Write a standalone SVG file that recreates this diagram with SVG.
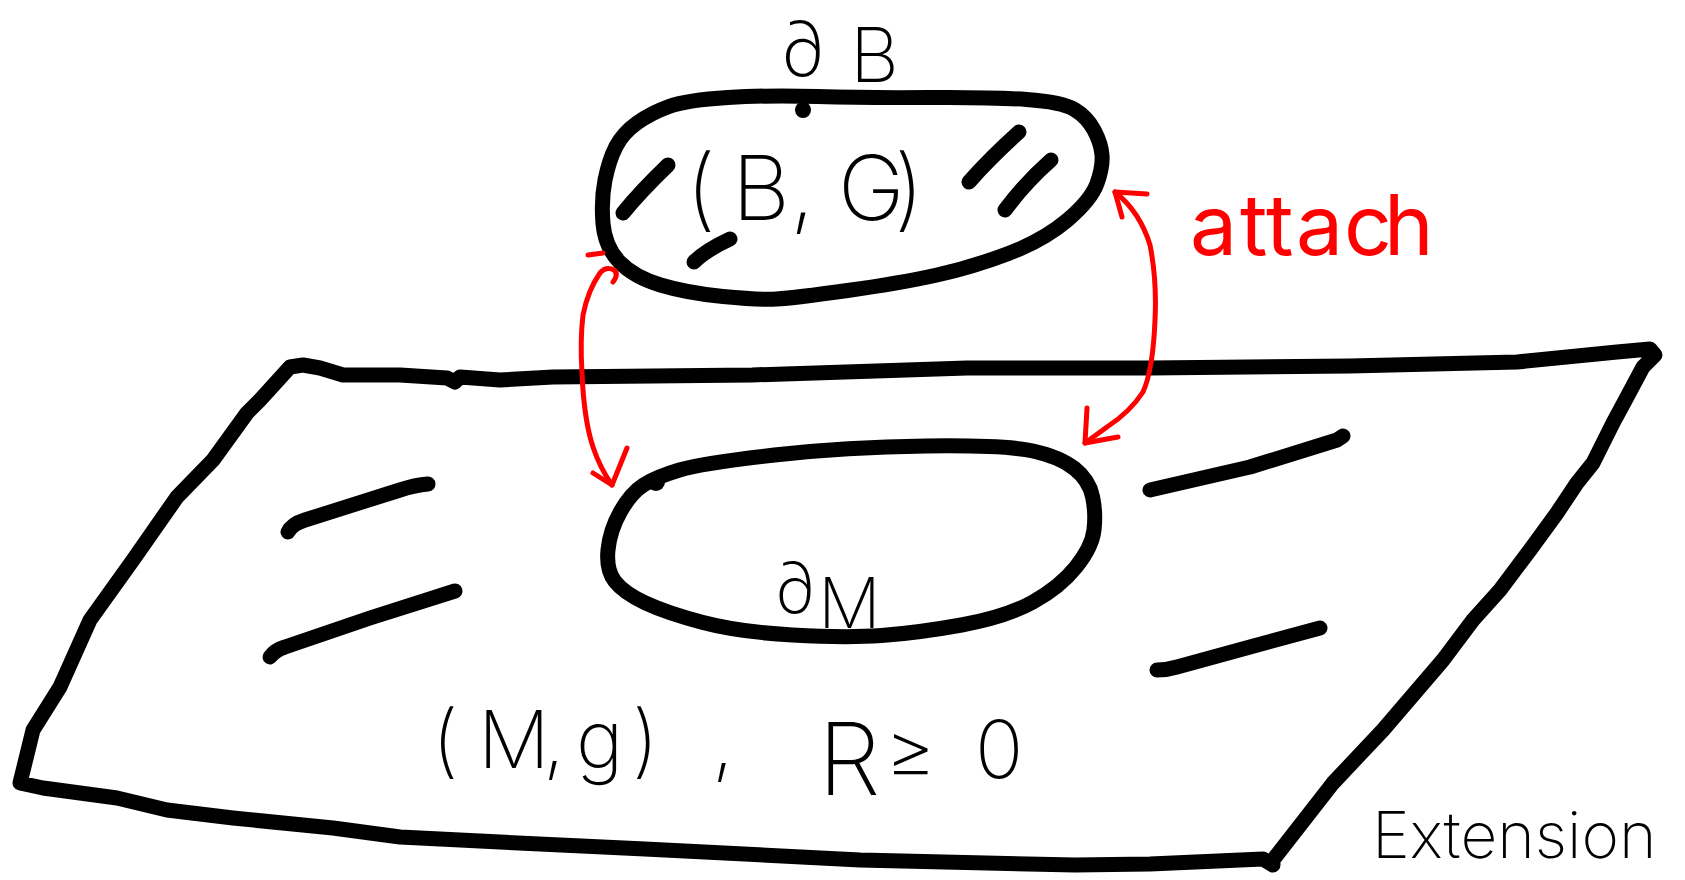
<svg xmlns="http://www.w3.org/2000/svg" width="1685" height="880" viewBox="0 0 1685 880">
<style>
.ink{fill:none;stroke:#000;stroke-width:15;stroke-linecap:round;stroke-linejoin:round}
.red{fill:none;stroke:#ff0000;stroke-width:5;stroke-linecap:round;stroke-linejoin:round}
.hand{font-family:Inter,"DejaVu Sans","Liberation Sans",sans-serif;font-weight:200;fill:#000}
.rhand{font-family:Inter,"DejaVu Sans","Liberation Sans",sans-serif;font-weight:400;fill:#ff0000}
</style>
<rect width="1685" height="880" fill="#fff"/>
<g id="plane">
<path class="ink" d="M20,783 L33,730 L60,687 L90,620 L133,560 L177,497 L213,460 L247,413 L260,400 L290,367 L303,365 L320,368 L343,375 L400,375 L447,378 L455,382 L460,377 L500,380 L553,377 L752,375 L967,368 L1150,368 L1350,366 L1517,362 L1617,352 L1650,349 L1655,355 L1643,367 L1627,397 L1613,423 L1593,463 L1577,483 L1557,513 L1530,550 L1500,590 L1473,620 L1443,660 L1383,730 L1333,783 L1273,860 L1273,865 L1263,859 L1150,864 L1075,865 L860,860 L645,849 L500,842 L400,837 L333,828 L233,818 L167,810 L117,798 L43,788 Z"/>
<path class="ink" d="M288,532 Q292,524 305,520 L400,490 Q415,485 428,484"/>
<path class="ink" d="M270,657 Q275,650 285,647 L370,618 L455,591"/>
<path class="ink" d="M1150,490 L1250,467 L1337,440 L1343,436"/>
<path class="ink" d="M1157,670 Q1167,670 1177,667 L1250,647 L1320,628"/>
<text class="hand" font-size="80" x="432 478 543 560 576 632" y="768">(M, g)</text>
<text class="hand" font-size="80" x="712" y="770">,</text>
<text class="hand" font-size="100" x="818" y="795">R</text>
<text class="hand" font-size="80" x="885 975" y="778">≥0</text>
<text class="hand" font-size="64" x="1372" y="858">Extension</text>
</g>
<g id="hole">
<path class="ink" d="M643.5,485 Q656,477 679.5,470 Q703,463 774.5,455 Q846,447 926,446 Q1006,445 1033,451 Q1060,457 1074.5,468.5 Q1089,480 1092.5,496.5 Q1096,513 1094,530 Q1092,547 1076,567 Q1060,587 1033,602 Q1006,617 961.5,625 Q917,633 881.5,635.5 Q846,638 792.5,635 Q739,632 703,622.5 Q667,613 645.5,603 Q624,593 615,581.5 Q606,570 608,550 Q610,530 620.5,511.5 Q631,493 643.5,485 Z"/>
<circle cx="656" cy="482" r="9" fill="#000"/>
<text class="hand" font-size="70" x="774 818" y="613 628">∂M</text>
</g>
<g id="ball">
<path class="ink" d="M728,97.5 Q769,95 817.5,96.5 Q866,98 928.5,97.5 Q991,97 1026.5,99.5 Q1062,102 1074.5,109.5 Q1087,117 1094,130 Q1101,143 1102,155 Q1103,167 1097,183.5 Q1091,200 1067.5,220 Q1044,240 1008.5,253.5 Q973,267 937,275 Q901,283 847.5,290.5 Q794,298 776.5,299 Q759,300 723,296.5 Q687,293 660.5,285 Q634,277 619.5,262 Q605,247 603,223.5 Q601,200 605,180 Q609,160 616,146.5 Q623,133 637,123 Q651,113 669,106.5 Q687,100 728,97.5 Z"/>
<circle cx="803" cy="110" r="8" fill="#000"/>
<path class="ink" d="M623,213 Q640,192 668,165"/>
<path class="ink" d="M694,262 Q706,250 730,239"/>
<path class="ink" d="M969,182 Q990,158 1019,132"/>
<path class="ink" d="M1005,210 Q1025,183 1051,160"/>
<text class="hand" font-size="90" x="686 732 790 808 838 894" y="220">(B, G)</text>
<text class="hand" font-size="76" x="780 850" y="76 82">∂B</text>
</g>
<g id="connectors">
<path class="red" d="M588,255 L603,253"/>
<path class="red" d="M613,282 Q619,274 614,270 Q606,266 600,273 Q588,290 583,315 Q580,340 582,373 Q584,420 593,447 Q600,468 612,485"/>
<path class="red" d="M627,448 L612,485 L593,473"/>
<path class="red" d="M1115,192 Q1140,212 1150,245 Q1157,280 1155,320 Q1153,370 1143,392 Q1130,412 1107,427 L1085,443"/>
<path class="red" d="M1147,194 L1115,192 L1122,217"/>
<path class="red" d="M1087,408 L1085,443 L1118,437"/>
<text class="rhand" font-size="84" x="1190 1240 1266 1296 1344 1384" y="255">attach</text>
</g>
</svg>
